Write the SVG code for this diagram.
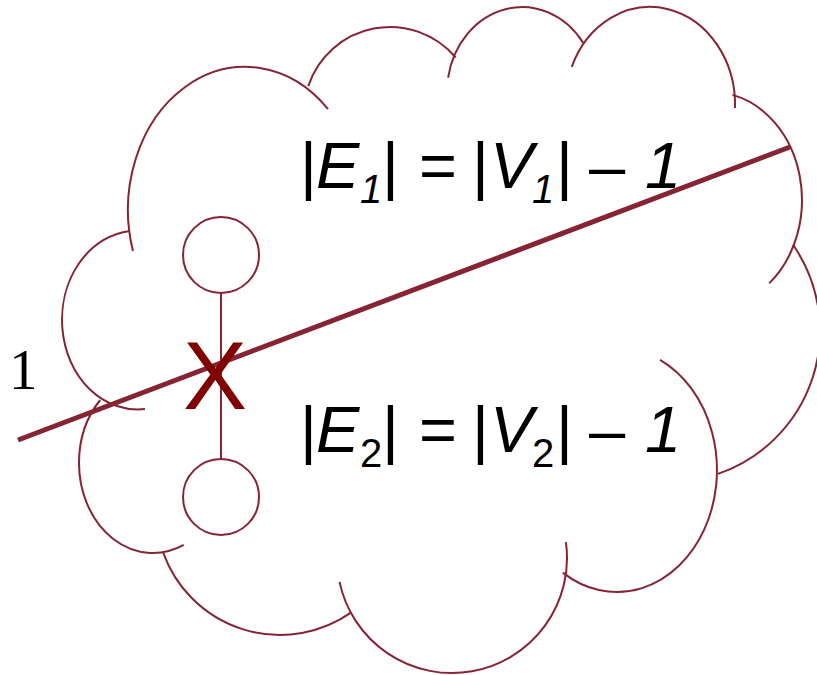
<svg xmlns="http://www.w3.org/2000/svg" width="817" height="675" viewBox="0 0 817 675">
  <style>
    .cl { fill: none; stroke: #862436; stroke-width: 2; }
    .nd { fill: #ffffff; stroke: #862436; stroke-width: 2; }
    .eq { font-family: "Liberation Sans", Arial, sans-serif; font-size: 65px; fill: #000000; }
    .it { font-style: italic; }
    .sub { font-size: 40px; }
  </style>
  <rect width="817" height="675" fill="#ffffff"/>
  <g id="cloud">
    <path class="cl" d="M328 109.2 A117 143 0 0 0 185.2 87 A117 143 0 0 0 132.9 250.9"/>
    <path class="cl" d="M308.3 86.1 A86 86 0 0 1 455.7 57.5"/>
    <path class="cl" d="M448.1 77.7 A75 85 0 0 1 583.2 42.9"/>
    <path class="cl" d="M571.7 66.9 A85 98 0 0 1 735 108"/>
    <path class="cl" d="M732.5 94.9 A90 108 0 0 1 769.2 283.4"/>
    <path class="cl" d="M793 244.8 A151 151 0 0 1 717.9 473.9"/>
    <path class="cl" d="M660 359.9 A100 122 0 0 1 704.3 529.4 A100 122 0 0 1 562.8 572.6"/>
    <path class="cl" d="M565.9 542.2 A115 115 0 0 1 472 671.3 A115 115 0 0 1 339.5 581.9"/>
    <path class="cl" d="M351.3 612.4 A124 124 0 0 1 163.3 552.8"/>
    <path class="cl" d="M183.7 544.9 A74 90 0 0 1 79 463 A74 90 0 0 1 100.2 400"/>
    <path class="cl" d="M145 409 A75.5 89.5 0 0 1 62.4 328.9 A75.5 89.5 0 0 1 130 230.9"/>
  </g>
  <g id="connectors">
    <line id="edge" x1="221" y1="293" x2="221" y2="459" stroke="#862436" stroke-width="2"/>
    <line id="cut" x1="18" y1="440" x2="790" y2="147" stroke="#862436" stroke-width="5"/>
  </g>
  <g id="node-top">
    <circle class="nd" cx="221" cy="255" r="38"/>
  </g>
  <g id="node-bottom">
    <circle class="nd" cx="221" cy="497" r="38"/>
  </g>
  <g id="cut-mark">
    <text x="215" y="409" text-anchor="middle" font-family="'Liberation Sans', Arial, sans-serif" font-size="96" fill="#800000">X</text>
  </g>
  <g id="label-weight">
    <text x="9" y="389" font-family="'Liberation Serif', 'Times New Roman', serif" font-size="57" fill="#000000">1</text>
  </g>
  <g id="label-e1">
    <text class="eq" y="188"><tspan x="300">|</tspan><tspan class="it" x="316">E</tspan><tspan class="it sub" x="360" dy="15">1</tspan><tspan x="382" dy="-15">|</tspan><tspan x="419">=</tspan><tspan x="472">|</tspan><tspan class="it" x="490">V</tspan><tspan class="it sub" x="532" dy="15">1</tspan><tspan x="556" dy="-15">|</tspan><tspan x="589">–</tspan><tspan class="it" x="645">1</tspan></text>
  </g>
  <g id="label-e2">
    <text class="eq" y="452"><tspan x="300">|</tspan><tspan class="it" x="316">E</tspan><tspan class="sub" x="360" dy="15">2</tspan><tspan x="382" dy="-15">|</tspan><tspan x="419">=</tspan><tspan x="472">|</tspan><tspan class="it" x="490">V</tspan><tspan class="sub" x="532" dy="15">2</tspan><tspan x="556" dy="-15">|</tspan><tspan x="589">–</tspan><tspan class="it" x="645">1</tspan></text>
  </g>
</svg>
